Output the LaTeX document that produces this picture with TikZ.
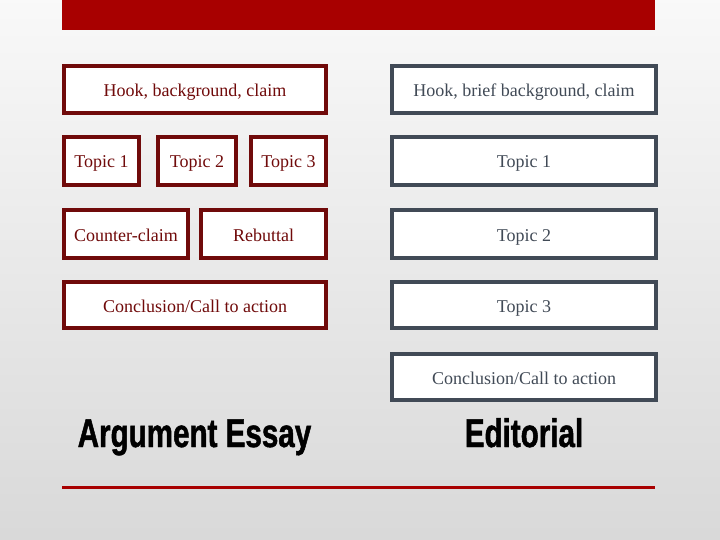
\documentclass[tikz,border=0pt]{standalone}
\usepackage{fontspec}
\setmainfont{Liberation Serif}
\newfontfamily\titlefont[FakeStretch=0.74,FakeBold=1.2]{Liberation Sans}
\definecolor{maroon}{HTML}{700A0A}
\definecolor{slate}{HTML}{414A56}
\definecolor{barred}{HTML}{A80000}
\tikzset{
  argbox/.style={draw=maroon, line width=4pt, fill=white, text=maroon,
    font=\fontsize{18}{21}\selectfont, inner sep=0pt,
    text height=14pt, text depth=0pt},
  edbox/.style={draw=slate, line width=4pt, fill=white, text=slate,
    font=\fontsize{18}{21}\selectfont, inner sep=0pt,
    text height=14pt, text depth=0pt, minimum width=264pt},
  title/.style={anchor=base, font=\titlefont\bfseries\fontsize{40}{44}\selectfont}
}
\begin{document}
\begin{tikzpicture}[x=1pt,y=-1pt]
\useasboundingbox (0,0) rectangle (720,540);
\shade[top color=gray!5, bottom color=gray!30] (0,0) rectangle (720,540);
\fill[color=barred] (62,0) rectangle (655,30);
\draw[color=barred, line width=3pt] (62,487) -- (655,487);

% argument essay
\node[argbox, minimum width=262pt, minimum height=47pt] (hookA) at (195,89.5) {Hook, background, claim};
\node[argbox, minimum width=75pt, minimum height=48pt] (topicA1) at (101.5,161) {Topic 1};
\node[argbox, minimum width=78pt, minimum height=48pt] (topicA2) at (197,161) {Topic 2};
\node[argbox, minimum width=75pt, minimum height=48pt] (topicA3) at (288.5,161) {Topic 3};
\node[argbox, minimum width=124pt, minimum height=48pt] (counter) at (126,234) {Counter-claim};
\node[argbox, minimum width=125pt, minimum height=48pt] (rebuttal) at (263.5,234) {Rebuttal};
\node[argbox, minimum width=262pt, minimum height=46pt] (concA) at (195,305) {Conclusion/Call to action};

% editorial
\node[edbox, minimum height=47pt] (hookB) at (524,89.5) {Hook, brief background, claim};
\node[edbox, minimum height=48pt] (topicB1) at (524,161) {Topic 1};
\node[edbox, minimum height=48pt] (topicB2) at (524,234) {Topic 2};
\node[edbox, minimum height=46pt] (topicB3) at (524,305) {Topic 3};
\node[edbox, minimum height=46pt] (concB) at (524,377) {Conclusion/Call to action};

\node[title] (titleA) at (194.5,447) {Argument Essay};
\node[title] (titleB) at (524,447) {Editorial};
\end{tikzpicture}
\end{document}
